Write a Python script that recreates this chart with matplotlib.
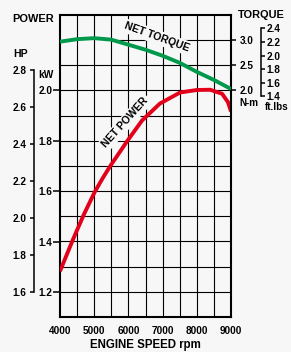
import numpy as np
import matplotlib.pyplot as plt

# --- Data ---
rpm_power = [4000, 4370, 4700, 5020, 5250, 5460, 5960, 6400, 6920, 7510, 8000, 8390, 8740, 8910, 9000]
power_kw = [1.282, 1.405, 1.508, 1.598, 1.652, 1.698, 1.798, 1.881, 1.948, 1.992, 2.002, 2.003,
            1.987, 1.954, 1.917]

rpm_torque = [4000, 4500, 5000, 5500, 6000, 6500, 7000, 7500, 8000, 8500, 9000]
torque_nm = [2.97, 3.02, 3.04, 3.01, 2.91, 2.81, 2.69, 2.55, 2.37, 2.21, 2.03]

rpm_ticks = [4000, 5000, 6000, 7000, 8000, 9000]
kw_ticks = [1.2, 1.4, 1.6, 1.8, 2.0]
hp_ticks = [1.6, 1.8, 2.0, 2.2, 2.4, 2.6, 2.8]
nm_ticks = [2.0, 2.5, 3.0]
ftlb_ticks = [1.4, 1.6, 1.8, 2.0, 2.2, 2.4]

# --- Style ---
BG = '#f7f7f7'
GREEN = '#00994c'
RED = '#e2001a'
W, H = 291, 352
plt.rcParams['font.family'] = ['Liberation Sans', 'DejaVu Sans']
plt.rcParams['font.weight'] = 'bold'
TICK_FS = 7.2
GRID_LW = 0.8


def fx(px):
    return px / W


def fy(py):
    return 1 - py / H


fig = plt.figure(figsize=(W / 100, H / 100), dpi=100, facecolor=BG)
ax = fig.add_axes([fx(60), fy(317), 171 / W, 302 / H])
ax.set_facecolor(BG)
ax.set_xlim(4000, 9000)
ax.set_ylim(1.1, 2.3)

# --- Grid ---
for x in np.arange(4500, 9000, 500):
    ax.axvline(x, color='black', lw=GRID_LW, zorder=1)
for y in np.arange(1.2, 2.15, 0.1):
    ax.axhline(y, color='black', lw=GRID_LW, zorder=1)
ax.hlines(2.2, 5550, 9000, color='black', lw=GRID_LW, zorder=1)

for s in ax.spines.values():
    s.set_linewidth(1.5)
ax.spines['right'].set_visible(False)

# --- kW axis (plot left edge) ---
ax.set_yticks(kw_ticks)
ax.set_yticklabels([f'{v:.1f}' for v in kw_ticks])
ax.tick_params(axis='y', direction='out', length=5, width=1.1, pad=0.5, labelsize=TICK_FS)

# --- rpm axis ---
ax.set_xticks(rpm_ticks)
ax.set_xticklabels([str(v) for v in rpm_ticks])
ax.tick_params(axis='x', length=0, pad=6.3, labelsize=TICK_FS)

# --- power curve ---
ax.plot(rpm_power, power_kw, color=RED, lw=2.8, solid_capstyle='butt',
        solid_joinstyle='round', zorder=3)

# --- torque curve on N-m axis ---
ax_t = ax.twinx()
ax_t.set_ylim(-2.5, 3.5)
for name in ['left', 'top', 'bottom']:
    ax_t.spines[name].set_visible(False)
ax_t.spines['right'].set_linewidth(1.5)
ax_t.set_yticks(nm_ticks)
ax_t.set_yticklabels([f'{v:.1f}' for v in nm_ticks])
ax_t.tick_params(axis='y', direction='out', length=3.6, width=1.1, pad=2.9, labelsize=TICK_FS)
ax_t.plot(rpm_torque, torque_nm, color=GREEN, lw=2.8, solid_capstyle='butt',
          solid_joinstyle='round', zorder=3)

# --- HP axis ---
ax_hp = ax.twinx()
ax_hp.set_ylim(1.4667, 3.0965)
for name in ['right', 'top', 'bottom']:
    ax_hp.spines[name].set_visible(False)
ax_hp.spines['left'].set_visible(True)
ax_hp.spines['left'].set_position(('axes', (34 - 60) / 171))
ax_hp.spines['left'].set_bounds(1.6, 2.8)
ax_hp.spines['left'].set_linewidth(1.1)
ax_hp.yaxis.set_ticks_position('left')
ax_hp.yaxis.set_label_position('left')
ax_hp.set_yticks(hp_ticks)
ax_hp.set_yticklabels([f'{v:.1f}' for v in hp_ticks])
ax_hp.tick_params(axis='y', direction='out', length=2.7, width=1.1, pad=2.9, labelsize=TICK_FS)

# --- ft.lbs axis ---
ax_ft = ax.twinx()
ax_ft.set_ylim(-1.8426, 2.5985)
for name in ['left', 'top', 'bottom']:
    ax_ft.spines[name].set_visible(False)
ax_ft.spines['right'].set_position(('axes', (261 - 60) / 171))
ax_ft.spines['right'].set_bounds(1.4, 2.4)
ax_ft.spines['right'].set_linewidth(1.1)
ax_ft.set_yticks(ftlb_ticks)
ax_ft.set_yticklabels([f'{v:.1f}' for v in ftlb_ticks])
ax_ft.tick_params(axis='y', direction='out', length=2.9, width=1.1, pad=1.2, labelsize=TICK_FS)

# --- curve labels (background box hides the grid behind them) ---
box = dict(facecolor=BG, edgecolor='none', pad=1.5)
ax.text(6840, 2.212, 'NET TORQUE', rotation=-20, ha='center', va='center',
        fontsize=7.6, rotation_mode='anchor', bbox=box, zorder=2)
ax.text(5915, 1.873, 'NET POWER', rotation=48, ha='center', va='center',
        fontsize=7.6, rotation_mode='anchor', bbox=box, zorder=2)

# --- axis titles ---
fig.text(fx(33), fy(19), 'POWER', ha='center', va='center', fontsize=7.9)
fig.text(fx(21), fy(54), 'HP', ha='center', va='center', fontsize=7.5)
fig.text(fx(45.5), fy(75.5), 'kW', ha='center', va='center', fontsize=7.3)
fig.text(fx(261.5), fy(15), 'TORQUE', ha='center', va='center', fontsize=7.9)
fig.text(fx(248.5), fy(103.5), 'N-m', ha='center', va='center', fontsize=7.1)
fig.text(fx(276.5), fy(107.5), 'ft.lbs', ha='center', va='center', fontsize=7.1)
fig.text(fx(145), fy(345), 'ENGINE SPEED rpm', ha='center', va='center', fontsize=8.3)

fig.savefig('out.png', dpi=100, facecolor=BG)
